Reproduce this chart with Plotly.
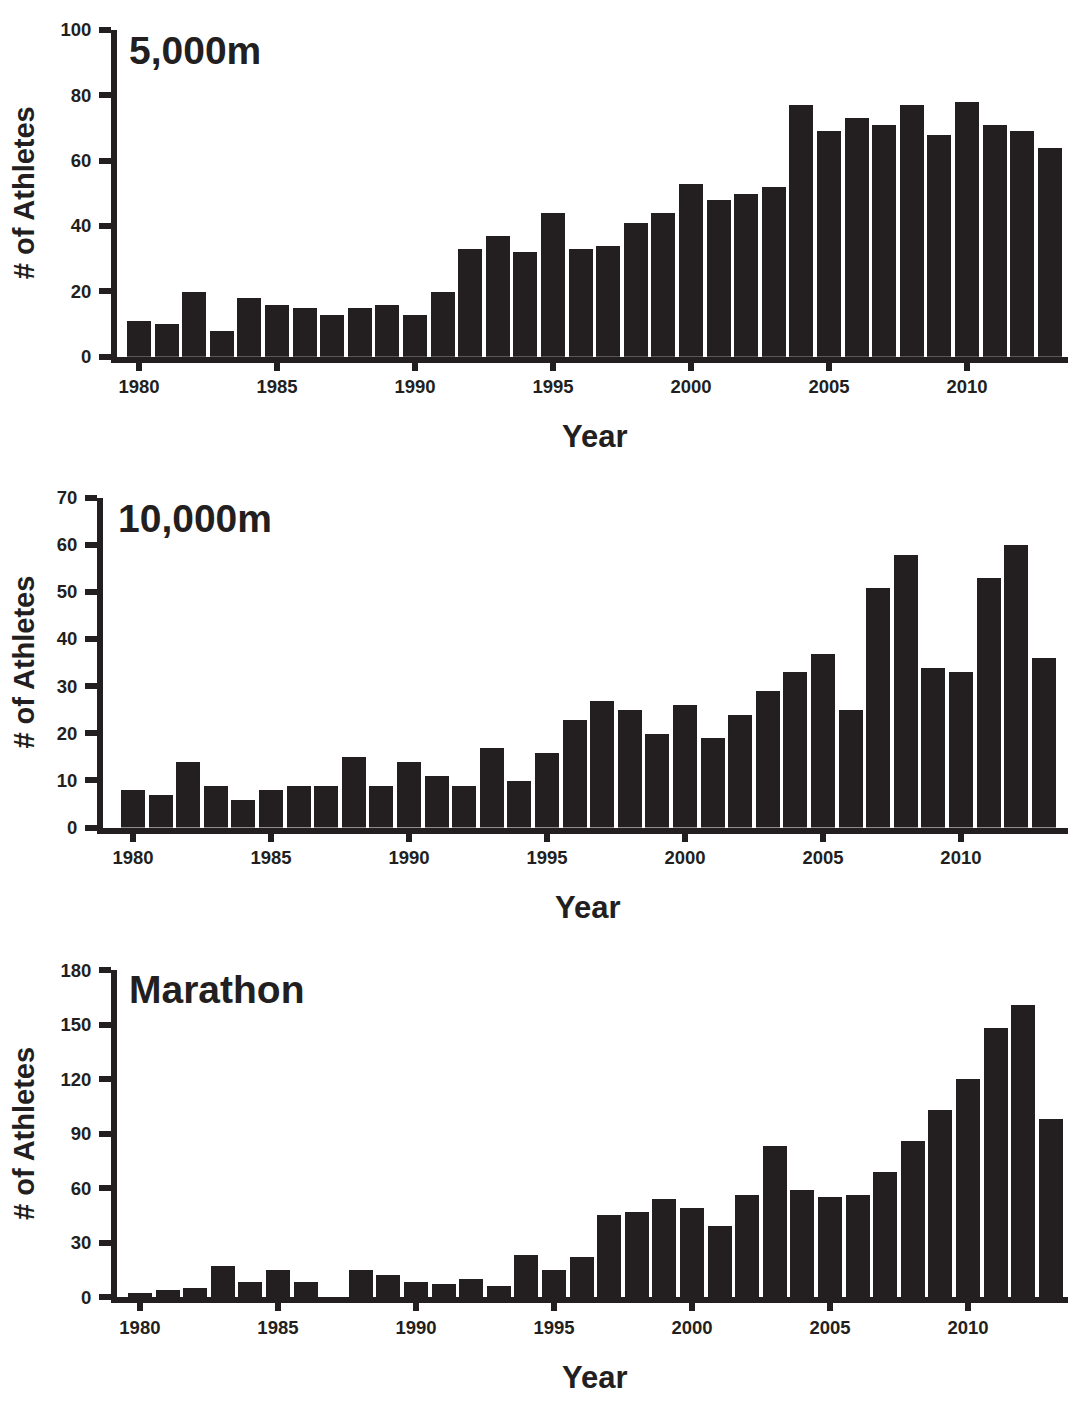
import plotly.graph_objects as go

# ---------------- data ----------------
years = list(range(1980, 2014))
m5000 = [11, 10, 20, 8, 18, 16, 15, 13, 15, 16, 13, 20, 33, 37, 32, 44, 33, 34,
         41, 44, 53, 48, 50, 52, 77, 69, 73, 71, 77, 68, 78, 71, 69, 64]
m10000 = [8, 7, 14, 9, 6, 8, 9, 9, 15, 9, 14, 11, 9, 17, 10, 16, 23, 27,
          25, 20, 26, 19, 24, 29, 33, 37, 25, 51, 58, 34, 33, 53, 60, 36]
marathon = [2, 4, 5, 17, 8, 15, 8, 0, 15, 12, 8, 7, 10, 6, 23, 15, 22, 45,
            47, 54, 49, 39, 56, 83, 59, 55, 56, 69, 86, 103, 120, 148, 161, 98]
panel_labels = ["5,000m", "10,000m", "Marathon"]
x_ticks = [1980, 1985, 1990, 1995, 2000, 2005, 2010]
y_max = [100, 70, 180]
y_step = [20, 10, 30]
y_title = "# of Athletes"
x_title = "Year"

# ---------------- layout helpers (pixels) ----------------
W, H = 1068, 1401
INK = "#231f20"
FONT = "Liberation Sans, Arial, Helvetica, sans-serif"


def fx(p):
    return p / W


def fy(p):
    return 1 - p / H


# left, top(px of y max), bottom(px of y 0), x range, label pos, year y
panels = [
    dict(left=117, top=19, bottom=351, xr=[1979.20, 2013.66], lab=(127, 40), yr_y=432),
    dict(left=103, top=494, bottom=829, xr=[1978.91, 2013.88], lab=(116, 515), yr_y=910),
    dict(left=117, top=974, bottom=1306, xr=[1979.17, 2013.62], lab=(127, 993), yr_y=1387),
]
series = [m5000, m10000, marathon]

fig = go.Figure()
annotations = []
for i, (p, vals) in enumerate(zip(panels, series)):
    n = "" if i == 0 else str(i + 1)
    fig.add_trace(go.Bar(
        x=years, y=vals, width=0.87,
        marker=dict(color=INK, line=dict(width=0)),
        xaxis="x" + n, yaxis="y" + n, showlegend=False,
    ))
    fig.update_layout(**{
        "xaxis" + n: dict(
            domain=[fx(p["left"]), 1.0], range=p["xr"], anchor="y" + n,
            tickvals=x_ticks, ticks="outside", ticklen=8, tickwidth=6, tickcolor=INK,
            showline=True, linewidth=6, linecolor=INK, showgrid=False, zeroline=False,
            tickfont=dict(family=FONT, size=18.5, color=INK, weight="bold"),
            fixedrange=True,
        ),
        "yaxis" + n: dict(
            domain=[fy(p["bottom"]), fy(p["top"])], range=[0, y_max[i]], anchor="x" + n,
            tickmode="linear", tick0=0, dtick=y_step[i],
            ticks="outside", ticklen=12, tickwidth=6, tickcolor=INK,
            showline=True, linewidth=6, linecolor=INK, showgrid=False, zeroline=False,
            tickfont=dict(family=FONT, size=18.5, color=INK, weight="bold"),
            ticklabelstandoff=4,
            fixedrange=True,
        ),
    })
    mid_y = (p["top"] + p["bottom"]) / 2
    annotations.append(dict(
        text=y_title, xref="paper", yref="paper", x=fx(24), y=fy(mid_y),
        xanchor="center", yanchor="middle", textangle=-90, showarrow=False,
        font=dict(family=FONT, size=29, color=INK, weight="bold"),
    ))
    annotations.append(dict(
        text=x_title, xref="paper", yref="paper", x=fx((p["left"] + W) / 2 + 2), y=fy(p["yr_y"]),
        xanchor="center", yanchor="middle", showarrow=False,
        font=dict(family=FONT, size=31, color=INK, weight="bold"),
    ))
    annotations.append(dict(
        text=panel_labels[i], xref="paper", yref="paper", x=fx(p["lab"][0]), y=fy(p["lab"][1]),
        xanchor="left", yanchor="middle", showarrow=False,
        font=dict(family=FONT, size=39, color=INK, weight="bold"),
    ))

fig.update_layout(
    width=W, height=H, margin=dict(l=0, r=0, t=0, b=0),
    paper_bgcolor="white", plot_bgcolor="white",
    annotations=annotations, bargap=0,
)

fig.write_html("out.html")
